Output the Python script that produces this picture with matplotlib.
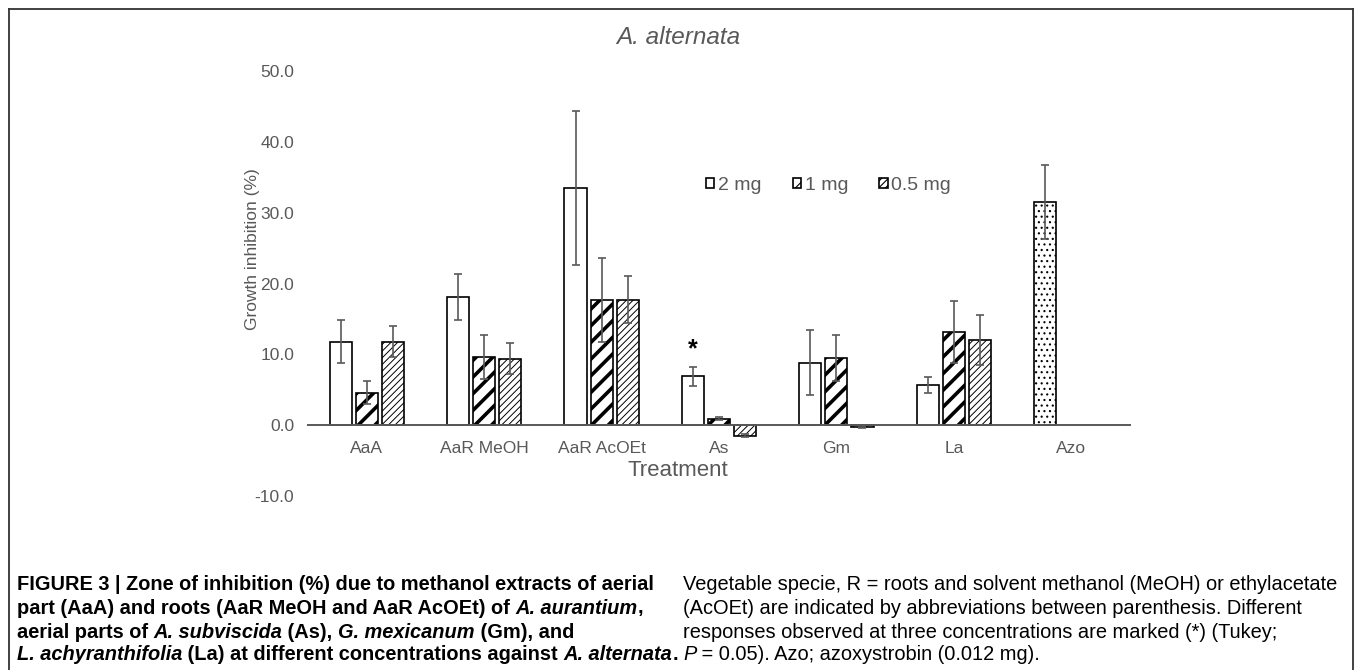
import numpy as np
import matplotlib
matplotlib.use("Agg")
import matplotlib.pyplot as plt
from matplotlib.lines import Line2D

# Datos
treatments = ["AaA", "AaR MeOH", "AaR AcOEt", "As", "Gm", "La", "Azo"]
mg2 = [11.8, 18.1, 33.5, 6.9, 8.8, 5.7]
mg2_err = [3.0, 3.2, 10.9, 1.3, 4.6, 1.1]
mg1 = [4.6, 9.6, 17.7, 0.9, 9.5, 13.2]
mg1_err = [1.6, 3.1, 5.9, 0.2, 3.2, 4.4]
mg05 = [11.8, 9.4, 17.7, -1.5, -0.3, 12.0]
mg05_err = [2.2, 2.2, 3.3, 0.2, 0.1, 3.5]
azo = [31.5]
azo_err = [5.2]
yticks = [-10, 0, 10, 20, 30, 40, 50]
series_labels = ["2 mg", "1 mg", "0.5 mg"]

GRAY = "#595959"
W, H = 1355, 670

plt.rcParams["font.family"] = ["Liberation Sans", "DejaVu Sans"]
fig = plt.figure(figsize=(W / 100, H / 100), dpi=100)


def fx(px):
    return px / W


def fy(py):
    return 1 - py / H


ax = fig.add_axes([fx(308), fy(496), fx(1130) - fx(308), fy(71) - fy(496)])

x = np.arange(len(mg2))
off = 0.222
bw = 0.188
ekw = dict(ecolor=GRAY, elinewidth=1.2, capsize=3, capthick=1.2)

b2 = ax.bar(x - off, mg2, bw, yerr=mg2_err, color="white", edgecolor="black",
            linewidth=1.2, error_kw=ekw, label=series_labels[0], zorder=2)
plt.rcParams["hatch.linewidth"] = 2.6
b1 = ax.bar(x, mg1, bw, yerr=mg1_err, color="white", edgecolor="black",
            linewidth=1.2, hatch="//", error_kw=ekw, label=series_labels[1], zorder=2)
plt.rcParams["hatch.linewidth"] = 0.7
b05 = ax.bar(x + off, mg05, bw, yerr=mg05_err, color="white", edgecolor="black",
             linewidth=1.2, hatch="/////", error_kw=ekw, label=series_labels[2], zorder=2)
plt.rcParams["hatch.linewidth"] = 0.8
ba = ax.bar([len(mg2) - off], azo, bw, yerr=azo_err, color="white", edgecolor="black",
            linewidth=1.2, hatch="...", error_kw=ekw, zorder=2)

# asterisco en As 2 mg
ax.text(3 - off, mg2[3] + mg2_err[3] + 0.8, "*", ha="center", va="bottom",
        fontsize=18, fontweight="bold", color="black")

ax.set_xlim(-0.5, len(treatments) - 0.5)
ax.set_ylim(-10, 50)
ax.set_yticks(yticks)
ax.set_yticklabels(["%.1f" % v for v in yticks])
ax.set_xticks(np.arange(len(treatments)))
ax.set_xticklabels(treatments)
for s in ["left", "right", "top"]:
    ax.spines[s].set_visible(False)
ax.spines["bottom"].set_position(("data", 0))
ax.spines["bottom"].set_color(GRAY)
ax.spines["bottom"].set_linewidth(1.4)
ax.spines["bottom"].set_zorder(3)
ax.tick_params(axis="y", length=0, pad=10, labelsize=12.5, labelcolor=GRAY)
ax.tick_params(axis="x", length=0, pad=11.5, labelsize=12.5, labelcolor=GRAY)

leg = ax.legend(handles=[b2, b1, b05], loc="center left",
                bbox_to_anchor=(fx(706), fy(185)), bbox_transform=fig.transFigure,
                ncol=3, frameon=False, fontsize=14, handlelength=0.42,
                handleheight=0.42, handletextpad=0.2, columnspacing=1.6,
                borderpad=0, borderaxespad=0)
for t in leg.get_texts():
    t.set_color(GRAY)

fig.text(fx(678), fy(37), "A. alternata", ha="center", va="center",
         fontsize=17.5, style="italic", color=GRAY)
fig.text(fx(678), fy(471), "Treatment", ha="center", va="center",
         fontsize=16, color=GRAY)
fig.text(fx(253), fy(249), "Growth inhibition (%)", ha="center", va="center",
         fontsize=12.5, color=GRAY, rotation=90)

# marco
lk = dict(color="#333333", linewidth=1.3, transform=fig.transFigure)
fig.add_artist(Line2D([fx(8.5), fx(8.5)], [fy(8.5), 0], **lk))
fig.add_artist(Line2D([fx(8.5), fx(1352.5)], [fy(8.5), fy(8.5)], **lk))
fig.add_artist(Line2D([fx(1352.5), fx(1352.5)], [fy(8.5), 0], **lk))

# pie de figura
cap_left = [
    [("FIGURE 3 | Zone of inhibition (%) due to methanol extracts of aerial", "b")],
    [("part (AaA) and roots (AaR MeOH and AaR AcOEt) of ", "b"), ("A. aurantium", "bi"), (",", "b")],
    [("aerial parts of ", "b"), ("A. subviscida", "bi"), (" (As), ", "b"),
     ("G. mexicanum", "bi"), (" (Gm), and", "b")],
    [("L. achyranthifolia", "bi"), (" (La) at different concentrations against ", "b"),
     ("A. alternata", "bi"), (".", "b")],
]
cap_right = [
    [("Vegetable specie, R = roots and solvent methanol (MeOH) or ethylacetate", "r")],
    [("(AcOEt) are indicated by abbreviations between parenthesis. Different", "r")],
    [("responses observed at three concentrations are marked (*) (Tukey;", "r")],
    [("P", "i"), (" = 0.05). Azo; azoxystrobin (0.012 mg).", "r")],
]
line_y = [584, 608, 632, 655]
renderer = fig.canvas.get_renderer()
CAP_FONT = ["Liberation Sans Narrow", "Liberation Sans", "DejaVu Sans"]


def props(style, size):
    return dict(fontsize=size, family=CAP_FONT,
                fontweight="bold" if "b" in style else "normal",
                style="italic" if "i" in style else "normal")


def seg_width(txt, style, size):
    t1 = fig.text(0, 0, "|" + txt + "|", **props(style, size))
    t2 = fig.text(0, 0, "||", **props(style, size))
    w = t1.get_window_extent(renderer).width - t2.get_window_extent(renderer).width
    t1.remove()
    t2.remove()
    return w


def line_width(segs, size):
    return sum(seg_width(t, s, size) for t, s in segs)


def draw_caption(lines, x0, size):
    for segs, yy in zip(lines, line_y):
        xp = x0
        for txt, st in segs:
            fig.text(fx(xp), fy(yy), txt, va="center", ha="left", color="black",
                     **props(st, size))
            xp += seg_width(txt, st, size)


# tamano de letra ajustado al ancho de la columna
size_l = 12 * 658 / line_width(cap_left[3], 12)
size_r = 12 * 657 / line_width(cap_right[0], 12)
draw_caption(cap_left, 17, size_l)
draw_caption(cap_right, 683, size_r)

fig.savefig("out.png", dpi=100)
